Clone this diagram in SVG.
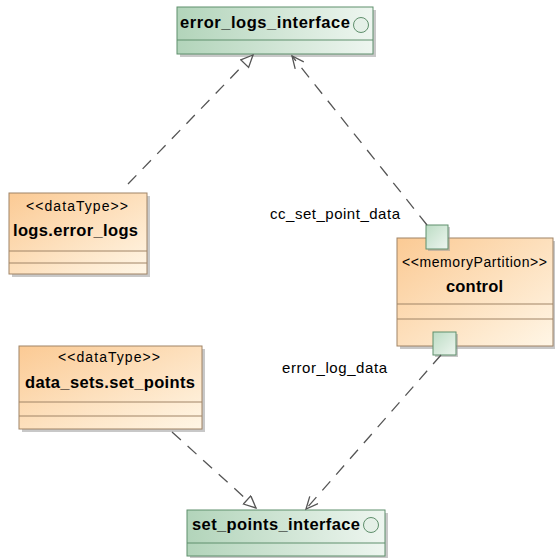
<svg xmlns="http://www.w3.org/2000/svg" width="555" height="558" viewBox="0 0 555 558">
<defs>
<linearGradient id="gO" x1="0" y1="0" x2="1" y2="1">
<stop offset="0" stop-color="#fbca94"/>
<stop offset="1" stop-color="#fff6e6"/>
</linearGradient>
<linearGradient id="gG" x1="0" y1="0" x2="1" y2="0">
<stop offset="0" stop-color="#b2d4ba"/>
<stop offset="1" stop-color="#eef6f0"/>
</linearGradient>
<linearGradient id="gP" x1="0" y1="0" x2="1" y2="1">
<stop offset="0" stop-color="#bcdcc4"/>
<stop offset="1" stop-color="#eef6f0"/>
</linearGradient>
<marker id="tri" markerUnits="userSpaceOnUse" markerWidth="16" markerHeight="14" refX="13" refY="6" orient="auto">
<path d="M1,0.5 L13,6 L1,11.5 Z" fill="#fff" stroke="#555" stroke-width="1.3" stroke-dasharray="none"/>
</marker>
<marker id="open" markerUnits="userSpaceOnUse" markerWidth="16" markerHeight="14" refX="13" refY="6" orient="auto">
<path d="M1,0.5 L13,6 L1,11.5" fill="none" stroke="#555" stroke-width="1.3" stroke-dasharray="none"/>
</marker>
</defs>
<style>
.sh{fill:#9a9a9a;opacity:0.55}
.ob{fill:url(#gO);stroke:#a08466;stroke-width:1}
.gb{fill:url(#gG);stroke:#5f8f6c;stroke-width:1}
.pb{fill:url(#gP);stroke:#5f8f6c;stroke-width:1}
.dv{stroke:#a08466;stroke-width:1}
.gdv{stroke:#5f8f6c;stroke-width:1}
.nm{font-family:"Liberation Sans",Arial,sans-serif;font-weight:bold;font-size:16.5px;fill:#000}
.st{font-family:"Liberation Sans",Arial,sans-serif;font-size:14px;fill:#000}
.lb{font-family:"Liberation Sans",Arial,sans-serif;font-size:15px;fill:#000}
.cn{fill:none;stroke:#555;stroke-width:1.3;stroke-dasharray:12 9}
.ic{fill:#e4f0e7;stroke:#5f8f6c;stroke-width:1}
</style>

<g id="error_logs_interface">
<rect class="sh" x="180" y="10" width="196" height="47"/>
<rect class="gb" x="177" y="7" width="196" height="47"/>
<line class="gdv" x1="177" y1="40" x2="373" y2="40"/>
<text class="nm" x="180" y="28" textLength="170" lengthAdjust="spacing">error_logs_interface</text>
<circle class="ic" cx="361" cy="25" r="7.5"/>
</g>

<g id="logs_error_logs">
<rect class="sh" x="12" y="196" width="138" height="81"/>
<rect class="ob" x="9" y="193" width="138" height="81"/>
<line class="dv" x1="9" y1="251" x2="147" y2="251"/>
<line class="dv" x1="9" y1="263" x2="147" y2="263"/>
<text class="st" x="26" y="211" textLength="102" lengthAdjust="spacing">&lt;&lt;dataType&gt;&gt;</text>
<text class="nm" x="13" y="236" textLength="125" lengthAdjust="spacing">logs.error_logs</text>
</g>

<g id="control">
<rect class="sh" x="400" y="241" width="155" height="108"/>
<rect class="ob" x="397" y="238" width="156" height="108"/>
<line class="dv" x1="397" y1="304" x2="553" y2="304"/>
<line class="dv" x1="397" y1="319" x2="553" y2="319"/>
<text class="st" x="402" y="267" textLength="145" lengthAdjust="spacing">&lt;&lt;memoryPartition&gt;&gt;</text>
<text class="nm" x="446" y="292" textLength="57" lengthAdjust="spacing">control</text>
</g>

<g id="port_cc_set_point_data">
<rect class="sh" x="428" y="227" width="22" height="24"/>
<rect class="pb" x="426" y="225" width="22" height="24"/>
</g>

<g id="port_error_log_data">
<rect class="sh" x="435" y="334" width="23" height="23"/>
<rect class="pb" x="433" y="332" width="23" height="23"/>
</g>

<g id="data_sets_set_points">
<rect class="sh" x="22" y="349" width="183" height="83"/>
<rect class="ob" x="19" y="346" width="183" height="83"/>
<line class="dv" x1="19" y1="402" x2="202" y2="402"/>
<line class="dv" x1="19" y1="416" x2="202" y2="416"/>
<text class="st" x="58" y="362" textLength="102" lengthAdjust="spacing">&lt;&lt;dataType&gt;&gt;</text>
<text class="nm" x="25" y="388" textLength="170" lengthAdjust="spacing">data_sets.set_points</text>
</g>

<g id="set_points_interface">
<rect class="sh" x="190" y="513" width="198" height="46"/>
<rect class="gb" x="187" y="510" width="198" height="46"/>
<line class="gdv" x1="187" y1="543" x2="385" y2="543"/>
<text class="nm" x="192" y="530" textLength="168" lengthAdjust="spacing">set_points_interface</text>
<circle class="ic" cx="371" cy="525" r="7.5"/>
</g>

<g id="connectors">
<path class="cn" d="M128,184 L253,55" marker-end="url(#tri)"/>
<path class="cn" d="M427,225 L292,56" marker-end="url(#open)"/>
<path class="cn" d="M441,355 L306,509" marker-end="url(#open)"/>
<path class="cn" d="M172,432 L256,508" marker-end="url(#tri)"/>
<text class="lb" x="270" y="219" textLength="130" lengthAdjust="spacing">cc_set_point_data</text>
<text class="lb" x="282" y="373" textLength="105" lengthAdjust="spacing">error_log_data</text>
</g>
</svg>
